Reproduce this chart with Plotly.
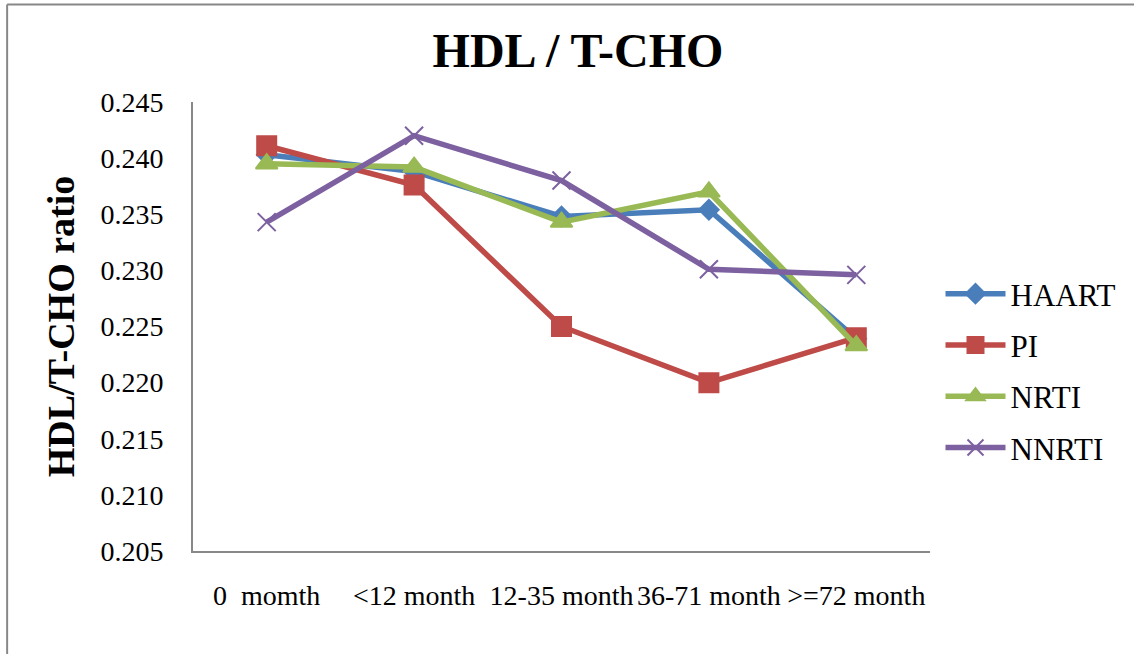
import plotly.graph_objects as go

# Treatment duration groups
categories = ["0  momth", "<12 month", "12-35 month", "36-71 month", ">=72 month"]

# HDL / total cholesterol ratio per regimen
haart = [0.2403, 0.2388, 0.2348, 0.2354, 0.2239]
pi = [0.2411, 0.2376, 0.2250, 0.2200, 0.2240]
nrti = [0.2395, 0.2392, 0.2343, 0.2370, 0.2233]
nnrti = [0.2343, 0.2420, 0.2380, 0.2301, 0.2296]

y_ticks = [0.205, 0.210, 0.215, 0.220, 0.225, 0.230, 0.235, 0.240, 0.245]

W, H = 1134, 654
L, R, T, B = 193, 930.5, 102, 551

series = [
    ("HAART", haart, "#4A7EBB", "diamond", 15),
    ("PI", pi, "#BE4B48", "square", 19),
    ("NRTI", nrti, "#98B954", "triangle-up", 19),
    ("NNRTI", nnrti, "#7D60A0", "x-thin-open", 18),
]

fig = go.Figure()
for name, vals, color, sym, size in series:
    fig.add_trace(go.Scatter(
        x=list(range(len(categories))), y=vals, name=name, mode="lines+markers",
        legendgroup=name,
        line=dict(color=color, width=5.5),
        marker=dict(symbol=sym, size=size, color=color,
                    line=dict(color=color, width=2)),
    ))

# outer frame of the chart area (left and top edges)
px = lambda v: (v - L) / (R - L)
py = lambda v: (B - v) / (B - T)
fig.add_shape(type="line", xref="paper", yref="paper",
              x0=px(7), x1=px(7), y0=py(H + 5), y1=py(4.5),
              line=dict(color="#888888", width=2))
fig.add_shape(type="line", xref="paper", yref="paper",
              x0=px(7), x1=px(W + 5), y0=py(4.5), y1=py(4.5),
              line=dict(color="#888888", width=2))

fig.update_layout(
    width=W, height=H,
    margin=dict(l=L, r=W - R, t=T, b=H - B),
    paper_bgcolor="white", plot_bgcolor="white",
    font=dict(family="Liberation Serif, Times New Roman, serif", color="black"),
    title=dict(text="<b>HDL / T-CHO</b>", x=(578) / W, xanchor="center",
               y=1 - 50 / H, yanchor="middle",
               font=dict(size=48, family="Liberation Serif", color="black")),
    showlegend=True,
    legend=dict(x=px(941), y=py(267), xanchor="left", yanchor="top",
                font=dict(size=31, family="Liberation Serif", color="black"),
                itemwidth=60, tracegroupgap=8, bgcolor="rgba(0,0,0,0)"),
    xaxis=dict(
        range=[-0.5, 4.5], tickmode="array",
        tickvals=list(range(len(categories))), ticktext=categories,
        showgrid=False, zeroline=False, showline=True,
        linecolor="#888888", linewidth=2, ticks="",
        tickfont=dict(size=28, family="Liberation Serif", color="black"),
        ticklabelstandoff=18, fixedrange=True,
    ),
    yaxis=dict(
        range=[0.205, 0.245], tickmode="array", tickvals=y_ticks,
        ticktext=[f"{v:.3f}" for v in y_ticks],
        showgrid=False, zeroline=False, showline=True,
        linecolor="#888888", linewidth=2, ticks="",
        tickfont=dict(size=28, family="Liberation Serif", color="black"),
        ticklabelstandoff=22,
        title=dict(text="<b>HDL/T-CHO ratio</b>", standoff=14,
                   font=dict(size=38, family="Liberation Serif", color="black")),
        fixedrange=True,
    ),
)

fig.write_html("out.html")
